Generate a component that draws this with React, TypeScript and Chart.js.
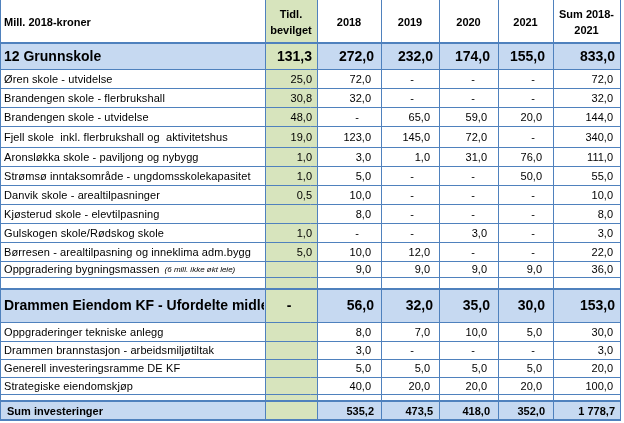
import React, { useEffect, useRef } from "react";
import { Chart, registerables } from "chart.js";

Chart.register(...registerables);

// ---------- data ----------
const headerLabel = "Mill. 2018-kroner";
const columnHeaders = ["Tidl.\nbevilget", "2018", "2019", "2020", "2021", "Sum 2018-\n2021"];

const rowLabels = [
  "12 Grunnskole",
  "Øren skole - utvidelse",
  "Brandengen skole - flerbrukshall",
  "Brandengen skole - utvidelse",
  "Fjell skole  inkl. flerbrukshall og  aktivitetshus",
  "Aronsløkka skole - paviljong og nybygg",
  "Strømsø inntaksområde - ungdomsskolekapasitet",
  "Danvik skole - arealtilpasninger",
  "Kjøsterud skole - elevtilpasning",
  "Gulskogen skole/Rødskog skole",
  "Børresen - arealtilpasning og inneklima adm.bygg",
  "Oppgradering bygningsmassen",
  "",
  "Drammen Eiendom KF - Ufordelte midler",
  "Oppgraderinger tekniske anlegg",
  "Drammen brannstasjon - arbeidsmiljøtiltak",
  "Generell investeringsramme DE KF",
  "Strategiske eiendomskjøp",
  "",
  "Sum investeringer",
];
const rowNotes = ["", "", "", "", "", "", "", "", "", "", "", "(6 mill. ikke økt leie)", "", "", "", "", "", "", "", ""];
const rowKinds = [
  "section", "item", "item", "item", "item", "item", "item", "item", "item", "item", "item", "item",
  "spacer", "section", "item", "item", "item", "item", "spacer", "total",
];

const tidl = [131.3, 25.0, 30.8, 48.0, 19.0, 1.0, 1.0, 0.5, null, 1.0, 5.0, null, null, 0, null, null, null, null, null, null];
const v2018 = [272.0, 72.0, 32.0, 0, 123.0, 3.0, 5.0, 10.0, 8.0, 0, 10.0, 9.0, null, 56.0, 8.0, 3.0, 5.0, 40.0, null, 535.2];
const v2019 = [232.0, 0, 0, 65.0, 145.0, 1.0, 0, 0, 0, 0, 12.0, 9.0, null, 32.0, 7.0, 0, 5.0, 20.0, null, 473.5];
const v2020 = [174.0, 0, 0, 59.0, 72.0, 31.0, 0, 0, 0, 3.0, 0, 9.0, null, 35.0, 10.0, 0, 5.0, 20.0, null, 418.0];
const v2021 = [155.0, 0, 0, 20.0, 0, 76.0, 50.0, 0, 0, 0, 0, 9.0, null, 30.0, 5.0, 0, 5.0, 20.0, null, 352.0];
const vSum = [833.0, 72.0, 32.0, 144.0, 340.0, 111.0, 55.0, 10.0, 8.0, 3.0, 22.0, 36.0, null, 153.0, 30.0, 3.0, 20.0, 100.0, null, 1778.7];

const columns = [tidl, v2018, v2019, v2020, v2021, vSum];

// ---------- layout (table units = px) ----------
const colEdges = [0, 265, 317, 381, 439, 498, 553, 620];
const rowEdges = [0, 43, 69, 88, 107, 126, 147, 166, 185, 204, 223, 242, 261, 277, 289, 322, 341, 359, 377, 394, 401, 420];
const itemPad = [5, 10, 9, 11, 11, 7];
const dashOffset = [26, 24, 27, 25, 20, 26];

const LINE = "#4f81bd";
const BLUE = "#c6d9f1";
const GREEN = "#d7e4bd";
const FONT = '"Liberation Sans", Arial, sans-serif';

function fmt(v: number): string {
  const s = v.toFixed(1);
  const [ip, dp] = s.split(".");
  const withSep = ip.replace(/\B(?=(\d{3})+(?!\d))/g, " ");
  return withSep + "," + dp;
}

const tablePlugin = {
  id: "tablePlugin",
  beforeDraw(chart: any) {
    const { ctx } = chart;
    const xs = chart.scales.x;
    const ys = chart.scales.y;
    const X = (v: number) => xs.getPixelForValue(v);
    const Y = (v: number) => ys.getPixelForValue(v);
    ctx.save();
    ctx.fillStyle = "#ffffff";
    ctx.fillRect(0, 0, chart.width, chart.height);

    // row fills
    rowKinds.forEach((kind, i) => {
      if (kind === "section" || kind === "total") {
        const t = Y(rowEdges[i + 1]);
        const b = Y(rowEdges[i + 2]);
        ctx.fillStyle = BLUE;
        ctx.fillRect(X(colEdges[0]), t, X(colEdges[colEdges.length - 1]) - X(colEdges[0]), b - t);
      }
    });
    // green column
    ctx.fillStyle = GREEN;
    ctx.fillRect(X(colEdges[1]), Y(rowEdges[0]), X(colEdges[2]) - X(colEdges[1]), Y(rowEdges[rowEdges.length - 1]) - Y(rowEdges[0]));

    // grid lines
    ctx.strokeStyle = LINE;
    const thick = new Set<number>([1, 14, 20, 21]);
    rowEdges.forEach((e, i) => {
      if (i === 0) return;
      const w = thick.has(i) ? 2 : 1;
      ctx.lineWidth = w;
      const yy = Math.round(Y(e)) + (w === 1 ? 0.5 : 0);
      ctx.beginPath();
      ctx.moveTo(X(colEdges[0]), yy);
      ctx.lineTo(X(colEdges[colEdges.length - 1]) + 1, yy);
      ctx.stroke();
    });
    ctx.lineWidth = 1;
    colEdges.forEach((e) => {
      const xx = Math.round(X(e)) + 0.5;
      ctx.beginPath();
      ctx.moveTo(xx, Y(rowEdges[0]));
      ctx.lineTo(xx, Y(rowEdges[rowEdges.length - 1]));
      ctx.stroke();
    });

    ctx.fillStyle = "#000000";
    ctx.textBaseline = "middle";

    // header
    const hTop = Y(rowEdges[0]);
    const hBot = Y(rowEdges[1]);
    const hMid = (hTop + hBot) / 2 + 1;
    ctx.font = "bold 11px " + FONT;
    ctx.textAlign = "left";
    ctx.fillText(headerLabel, X(colEdges[0]) + 4, hMid);
    ctx.textAlign = "center";
    columnHeaders.forEach((h, c) => {
      const cx = (X(colEdges[c + 1]) + X(colEdges[c + 2])) / 2;
      const lines = h.split("\n");
      if (lines.length === 1) ctx.fillText(lines[0], cx, hMid);
      else {
        ctx.fillText(lines[0], cx, hMid - 8);
        ctx.fillText(lines[1], cx, hMid + 8);
      }
    });

    // body rows
    rowKinds.forEach((kind, i) => {
      const t = Y(rowEdges[i + 1]);
      const b = Y(rowEdges[i + 2]);
      const mid = (t + b) / 2 + 1;
      if (kind === "spacer") return;
      const big = kind === "section";
      const bold = kind !== "item";
      const font = big ? "bold 14px " + FONT : bold ? "bold 11px " + FONT : "11px " + FONT;
      // label, clipped to first column
      ctx.save();
      ctx.beginPath();
      ctx.rect(X(colEdges[0]), t, X(colEdges[1]) - X(colEdges[0]) - 1, b - t);
      ctx.clip();
      ctx.textAlign = "left";
      ctx.font = font;
      (ctx as any).letterSpacing = kind === "item" ? "0.1px" : "0px";
      const lx = X(colEdges[0]) + (kind === "total" ? 7 : 4);
      ctx.fillText(rowLabels[i], lx, mid);
      if (rowNotes[i]) {
        const w = ctx.measureText(rowLabels[i]).width;
        ctx.font = "italic 8px " + FONT;
        (ctx as any).letterSpacing = "0px";
        ctx.fillText(rowNotes[i], lx + w + 5, mid);
      }
      ctx.restore();
      (ctx as any).letterSpacing = "0px";

      // values
      columns.forEach((col, c) => {
        const v = col[i];
        if (v === null || v === undefined) return;
        const right = X(colEdges[c + 2]);
        const left = X(colEdges[c + 1]);
        ctx.font = font;
        if (v === 0) {
          ctx.textAlign = "center";
          if (big) ctx.fillText("-", (left + right) / 2 - 2, mid);
          else ctx.fillText("-", right - dashOffset[c], mid);
          return;
        }
        ctx.textAlign = "right";
        const pad = bold ? Math.max(itemPad[c] - 3, 5) : itemPad[c];
        ctx.fillText(fmt(v), right - pad, mid);
      });
    });
    ctx.restore();
  },
};

export default function App() {
  const ref = useRef<HTMLCanvasElement | null>(null);
  useEffect(() => {
    if (!ref.current) return;
    const chart = new Chart(ref.current, {
      type: "scatter",
      data: { datasets: [] },
      options: {
        animation: false,
        responsive: false,
        maintainAspectRatio: false,
        layout: { padding: 0 },
        plugins: { legend: { display: false }, tooltip: { enabled: false } },
        events: [],
        scales: {
          x: { type: "linear", min: 0, max: 624, display: false },
          y: { type: "linear", min: 0, max: 423, reverse: true, display: false },
        },
      },
      plugins: [tablePlugin],
    });
    return () => chart.destroy();
  }, []);
  return (
    <div style={{ position: "fixed", left: 0, top: 0, width: 624, height: 423, background: "#fff" }}>
      <canvas ref={ref} width={624} height={423} style={{ width: 624, height: 423, display: "block" }} />
    </div>
  );
}
